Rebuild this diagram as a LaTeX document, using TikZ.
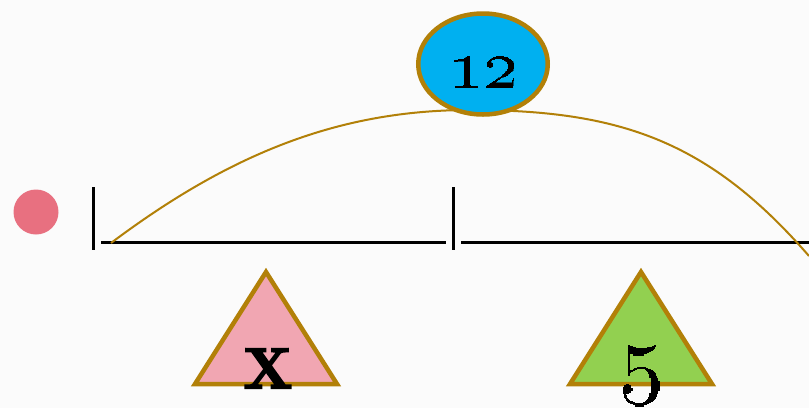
\documentclass[tikz,border=0pt]{standalone}
\usepackage{graphicx}
\usetikzlibrary{shapes.geometric}
\definecolor{gold}{RGB}{178,128,8}
\definecolor{skyfill}{RGB}{0,176,240}
\definecolor{pinkfill}{RGB}{241,166,178}
\definecolor{greenfill}{RGB}{146,208,80}
\definecolor{dotpink}{RGB}{232,112,128}
\definecolor{bgpaper}{RGB}{251,251,251}
\newcommand{\heavytext}[2]{\special{pdf:literal direct q 2 Tr #1 w 0 G}#2\special{pdf:literal direct Q}}
\newcommand{\osnum}[2]{\scalebox{#1}{\fontsize{10}{10}\selectfont\bfseries\heavytext{0.35}{\oldstylenums{#2}}}}
\tikzset{
  blackline/.style={line width=3pt, black},
  tribox/.style={line width=4.5pt, draw=gold, line join=miter},
  bigtext/.style={inner sep=0pt, anchor=base, text=black},
}
\begin{document}
\begin{tikzpicture}[x=1pt,y=-1pt]
  \fill[bgpaper] (0,0) rectangle (809,408);
  \useasboundingbox (0,0) rectangle (809,408);
  % dot
  \node[circle, fill=dotpink, minimum size=45pt, inner sep=0pt] (dot) at (36,212) {};
  % ticks and lines
  \coordinate (t1a) at (93,187); \coordinate (t1b) at (93,250);
  \coordinate (t2a) at (453,187); \coordinate (t2b) at (453,250);
  \coordinate (l1a) at (101,242); \coordinate (l1b) at (446,242);
  \coordinate (l2a) at (461,242); \coordinate (l2b) at (809,242);
  \draw[blackline] (t1a) -- (t1b);
  \draw[blackline] (t2a) -- (t2b);
  \draw[blackline] (l1a) -- (l1b);
  \draw[blackline] (l2a) -- (l2b);
  % arc
  \coordinate (arcL) at (111,243);
  \coordinate (arcT) at (470,110);
  \coordinate (arcR) at (809,256);
  \draw[gold, line width=2pt] (arcL) .. controls (231,153) and (340,110) .. (arcT)
    .. controls (620,110) and (709,141) .. (arcR);
  % ellipse
  \node[ellipse, draw=gold, fill=skyfill, line width=4.5pt, minimum width=129.5pt, minimum height=101pt, inner sep=0pt] (ell) at (483,64) {};
  \node[bigtext] (t12) at (483,87) {\osnum{7}{12}};
  % triangles
  \coordinate (pa) at (266,272); \coordinate (pb) at (195,384); \coordinate (pc) at (337,384);
  \coordinate (ga) at (641,272); \coordinate (gb) at (570,384); \coordinate (gc) at (712,384);
  \draw[tribox, fill=pinkfill] (pa) -- (pb) -- (pc) -- cycle;
  \draw[tribox, fill=greenfill] (ga) -- (gb) -- (gc) -- cycle;
  \node[bigtext, font=\fontsize{57}{57}\selectfont\bfseries] (tx) at (268,388) {\heavytext{2.2}{X}};
  \node[bigtext] (t5) at (642,386) {\osnum{9.2}{5}};
\end{tikzpicture}
\end{document}
